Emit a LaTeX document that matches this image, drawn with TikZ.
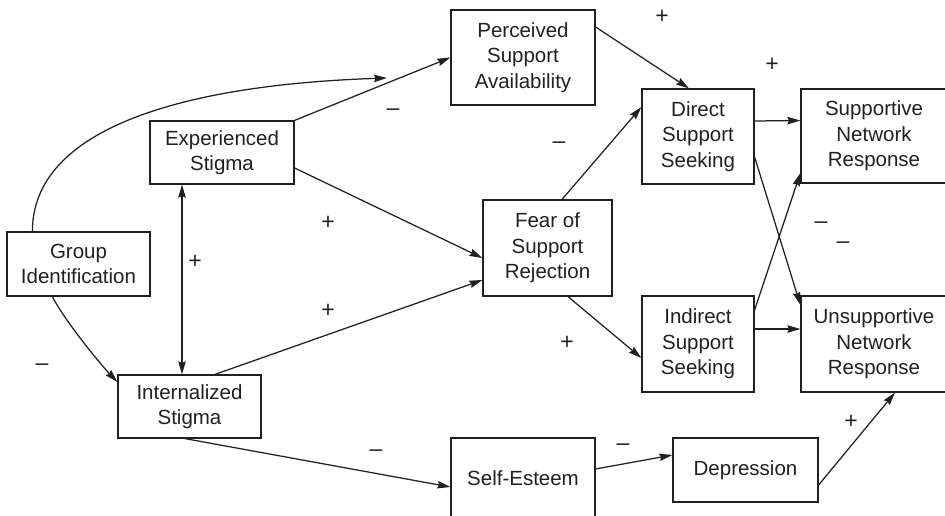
\documentclass[tikz,border=0pt]{standalone}
\usepackage{fontspec}
\setmainfont{Liberation Sans}
\usetikzlibrary{arrows.meta,calc}
\definecolor{ink}{HTML}{231F20}
\tikzset{
  box/.style={draw=ink, line width=1.2pt, rectangle, inner sep=0pt, align=center,
    font=\fontsize{20.5}{25.5}\selectfont, text=ink},
  tip/.style={Stealth[length=13pt,width=7.5pt,inset=1.5pt]},
  conn/.style={draw=ink, line width=1.25pt, -{Stealth[length=13pt,width=7.5pt,inset=1.5pt]}},
  dconn/.style={draw=ink, line width=1.25pt, {Stealth[length=13pt,width=7.5pt,inset=1.5pt]}-{Stealth[length=13pt,width=7.5pt,inset=1.5pt]}},
  sign/.style={font=\fontsize{23}{26}\selectfont, text=ink, inner sep=0pt}
}
\begin{document}
\begin{tikzpicture}[x=1pt,y=-1pt]
\useasboundingbox (0,0) rectangle (945,516);
\node[box, minimum width=144pt, minimum height=95pt] (perc) at (523,57.5) {Perceived\\Support\\Availability};
\node[box, minimum width=144pt, minimum height=63pt] (exp) at (222,152.5) {Experienced\\Stigma};
\node[box, minimum width=143pt, minimum height=64pt] (grp) at (78.5,264) {Group\\Identification};
\node[box, minimum width=143pt, minimum height=63pt] (int) at (189.5,406.5) {Internalized\\Stigma};
\node[box, minimum width=144pt, minimum height=80pt] (self) at (523,478) {Self-Esteem};
\node[box, minimum width=129pt, minimum height=96pt] (fear) at (547.5,248) {Fear of\\Support\\Rejection};
\node[box, minimum width=112pt, minimum height=95pt] (dir) at (698,136.5) {Direct\\Support\\Seeking};
\node[box, minimum width=146pt, minimum height=94pt] (sup) at (874,136) {Supportive\\Network\\Response};
\node[box, minimum width=112pt, minimum height=96pt] (indir) at (698,344) {Indirect\\Support\\Seeking};
\node[box, minimum width=146pt, minimum height=96pt] (unsup) at (874,344) {Unsupportive\\Network\\Response};
\node[box, minimum width=145pt, minimum height=64pt] (dep) at (745.5,470) {Depression};

\coordinate (cj) at (387,78);
% connectors
\draw[conn] ($(grp.north west)+(26,0)$) .. controls +(0,-102) and (180,85) .. (cj);
\draw[conn] (exp.north east) -- (perc.west);
\draw[conn] ($(exp.east)+(0,15.5)$) -- ($(fear.west)+(0,10)$);
\coordinate (ea) at ($(exp.south)+(-40,0)$);
\draw[dconn] (ea) -- (ea |- int.north);
\draw[conn] ($(grp.south west)+(46,0)$) .. controls +(12,24) and (102,366) .. ($(int.west)+(0,-24.5)$);
\draw[conn] ($(int.north)+(25.5,0)$) -- ($(fear.west)+(0,32)$);
\draw[conn] ($(int.south)+(-4.5,0)$) -- ($(self.west)+(0,9)$);
\draw[conn] ($(fear.north)+(14.5,0)$) -- ($(dir.west)+(0,-29.5)$);
\draw[conn] ($(fear.south)+(20.5,0)$) -- ($(indir.west)+(0,14)$);
\draw[conn] ($(perc.east)+(0,-30.5)$) -- ($(dir.north)+(-9,0)$);
\draw[conn] ($(dir.east)+(0,-15.5)$) -- ($(sup.west)+(0,-15.5)$);
\draw[conn] ($(dir.east)+(0,20.5)$) -- ($(unsup.west)+(0,-39)$);
\draw[conn] ($(indir.east)+(0,-34)$) -- ($(sup.west)+(0,37)$);
\draw[conn] ($(indir.east)+(0,-15)$) -- ($(unsup.west)+(0,-15)$);
\draw[conn] ($(self.east)+(0,-9)$) -- ($(dep.west)+(0,-15)$);
\draw[conn] ($(dep.east)+(0,15)$) -- ($(unsup.south)+(21,0)$);

% signs
\node[sign] (s1) at (662,17) {+};
\node[sign] (s2) at (772,65) {+};
\node[sign] (s3) at (393,112) {–};
\node[sign] (s4) at (559,145) {–};
\node[sign] (s5) at (328,223) {+};
\node[sign] (s6) at (195,262) {+};
\node[sign] (s7) at (328,311) {+};
\node[sign] (s8) at (42,367) {–};
\node[sign] (s9) at (376,453) {–};
\node[sign] (s10) at (821,225) {–};
\node[sign] (s11) at (843,245) {–};
\node[sign] (s12) at (567,343) {+};
\node[sign] (s13) at (623,447) {–};
\node[sign] (s14) at (851,422) {+};
\end{tikzpicture}
\end{document}
